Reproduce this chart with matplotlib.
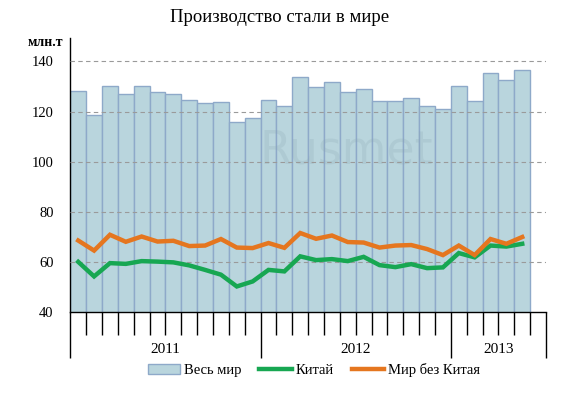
import numpy as np
import matplotlib.pyplot as plt
from matplotlib.ticker import MultipleLocator, NullFormatter

# данные (млн т), январь 2011 - май 2013
ves_mir = [128.0, 118.5, 130.0, 127.0, 130.0, 127.6, 127.2, 124.5, 123.3, 123.7,
           115.7, 117.3, 124.5, 122.1, 133.6, 129.6, 131.6, 127.6, 128.8, 124.1,
           124.1, 125.3, 122.1, 120.9, 130.0, 124.1, 135.2, 132.4, 136.4]
kitai = [60.1, 54.3, 59.6, 59.3, 60.4, 60.2, 59.9, 58.7, 56.9, 55.0,
         50.3, 52.3, 56.9, 56.3, 62.3, 60.8, 61.2, 60.4, 62.1, 58.8,
         58.0, 59.2, 57.6, 57.9, 63.6, 61.9, 66.6, 66.2, 67.3]
bez_kitaya = [68.6, 64.6, 70.9, 68.1, 70.2, 68.2, 68.5, 66.4, 66.6, 69.2,
              65.8, 65.6, 67.6, 65.7, 71.6, 69.3, 70.6, 68.0, 67.8, 65.8,
              66.6, 66.8, 65.2, 62.8, 66.6, 62.8, 69.2, 67.3, 70.0]
goda = ['2011', '2012', '2013']
mesyacev = [12, 12, 6]

plt.rcParams['font.family'] = ['Liberation Serif', 'DejaVu Serif']

fig = plt.figure(figsize=(5.88, 3.98), dpi=100)
ax = fig.add_axes([70.3 / 588, 1 - 312.3 / 398, (546 - 70.3) / 588, 274 / 398])

x = np.arange(len(ves_mir)) + 0.5
b = ax.bar(x, ves_mir, width=1.0, color='#b9d5dd', edgecolor='#8ea9c9', linewidth=1.0,
           label='Весь мир', zorder=1)
l1, = ax.plot(x, kitai, color='#17a752', lw=3.2, label='Китай', zorder=4,
              solid_joinstyle='miter')
l2, = ax.plot(x, bez_kitaya, color='#e5761f', lw=3.2, label='Мир без Китая', zorder=5,
              solid_joinstyle='miter')

# сетка
for v in range(60, 141, 20):
    ax.axhline(v, color='#9a9a9a', lw=0.8, ls=(0, (4, 3)), zorder=3)

ax.set_ylim(40, 149.2)
ax.set_xlim(0, sum(mesyacev))
ax.yaxis.set_major_locator(MultipleLocator(20))
ax.tick_params(axis='y', length=0, pad=12, labelsize=10.5)
ax.yaxis.get_major_ticks()[0].tick1line.set_markersize(5)

granicy = np.cumsum([0] + mesyacev)
ax.set_xticks(granicy)
ax.set_xticks(np.arange(0, sum(mesyacev) + 1), minor=True)
ax.xaxis.set_major_formatter(NullFormatter())
ax.tick_params(axis='x', which='major', length=33, width=1, direction='out')
ax.tick_params(axis='x', which='minor', length=16.6, width=1, direction='out')

for i, g in enumerate(goda):
    ax.text((granicy[i] + granicy[i + 1]) / 2, -0.134, g, transform=ax.get_xaxis_transform(),
            ha='center', va='center', fontsize=11)

for s in ['top', 'right']:
    ax.spines[s].set_visible(False)
for s in ['left', 'bottom']:
    ax.spines[s].set_linewidth(1.0)

# водяной знак
ax.text(0.58, 0.59, 'Rusmet', transform=ax.transAxes, fontsize=33, family='DejaVu Sans',
        color='#8aa6b0', alpha=0.22, ha='center', va='center', zorder=2)

fig.text(280 / 588, 1 - 18 / 398, 'Производство стали в мире', ha='center', va='center',
         fontsize=13.5)
fig.text(45 / 588, 1 - 43 / 398, 'млн.т', ha='center', va='center', fontsize=10,
         fontweight='bold')

fig.legend([b, l1, l2], ['Весь мир', 'Китай', 'Мир без Китая'], loc='center',
           bbox_to_anchor=(314 / 588, 1 - 370 / 398), ncol=3, frameon=False,
           fontsize=10.5, handlelength=2.2, handletextpad=0.3, columnspacing=1.2)

fig.savefig('out.png', dpi=100)
